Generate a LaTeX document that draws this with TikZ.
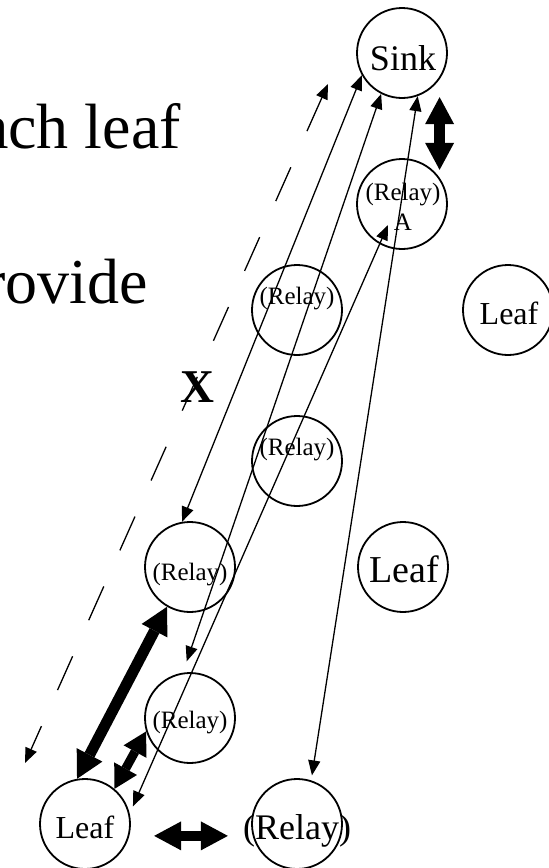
\documentclass[tikz,border=0pt]{standalone}
\usepackage{fontspec}
\setmainfont{Liberation Serif}
\usetikzlibrary{arrows.meta}

\begin{document}
\begin{tikzpicture}[
    x=1pt, y=-1pt,
    station/.style={
        circle, draw=black, line width=1.8pt, minimum size=90pt, inner sep=0pt
    },
    tag/.style={
        font=\fontsize{#1}{#1}\selectfont, inner sep=0pt, anchor=base
    },
    tag/.default={25},
    link/.style={
        {Triangle[length=15pt,width=12pt]}-{Triangle[length=15pt,width=12pt]},
        line width=1.3pt
    },
    hop/.style={
        link, dash pattern=on 37pt off 39.5pt
    },
    fat/.style={
        {Triangle[length=27pt,width=29pt,line width=0pt]}-{Triangle[length=27pt,width=29pt,line width=0pt]},
        line width=11pt
    },
    stub/.style={
        {Triangle[length=23pt,width=26pt,line width=0pt]}-{Triangle[length=23pt,width=26pt,line width=0pt]},
        line width=9pt
    }
]
\useasboundingbox (0,0) rectangle (549,868);

% -- slide text, cut off at the left edge --
\node[tag=64, anchor=base east] (line1) at (181,148) {ach leaf};
\node[tag=64, anchor=base east] (line2) at (148,303) {rovide};
\node[tag=47, font=\fontsize{47}{47}\selectfont\bfseries] (xmark) at (197,402) {X};

% -- stations --
\node[station] (sink)   at (402,53)  {};
\node[station] (relayA) at (402,204) {};
\node[station] (relayU) at (297,310) {};
\node[station] (leafU)  at (508,310) {};
\node[station] (relayM) at (297,461) {};
\node[station] (relayL) at (190,567) {};
\node[station] (leafM)  at (403,567) {};
\node[station] (relayD) at (190,718) {};
\node[station] (leafD)  at (85,824)  {};
\node[station] (relayR) at (297,824) {};

% -- station labels --
\node[tag=36] (sinktxt)   at (403,70)  {Sink};
\node[tag]    (relayAtxt) at (403,200) {(Relay)};
\node[tag]    (relayAid)  at (403,230) {A};
\node[tag]    (relayUtxt) at (297,304) {(Relay)};
\node[tag=32] (leafUtxt)  at (509,324) {Leaf};
\node[tag]    (relayMtxt) at (297,455) {(Relay)};
\node[tag]    (relayLtxt) at (190,580) {(Relay)};
\node[tag=38] (leafMtxt)  at (404,582) {Leaf};
\node[tag]    (relayDtxt) at (190,728) {(Relay)};
\node[tag=32] (leafDtxt)  at (85,838)  {Leaf};
\node[tag=36] (relayRtxt) at (297,839) {(Relay)};

% -- free ends --
\coordinate (dashtop) at (328,84);
\coordinate (dashbot) at (25,763);
\coordinate (aimA)    at (388,225);

% -- thin two-way links --
\draw[hop] (dashtop) -- (dashbot);
\draw[link] (sink.209) -- (relayL.100);
\draw[link, shorten >=12pt] (sink.243) -- (relayD.99);
\draw[link, shorten >=8pt] (aimA) -- (leafD.13);
\draw[link, shorten >=5pt] (sink.290) -- (relayR.72);

% -- block arrows --
\draw[fat, shorten <=17.8pt, shorten >=7.8pt] (sink.-35) -- (relayA.35);
\draw[fat] (relayL.240) -- (leafD.100);
\draw[stub] (relayD.197) -- (leafD.50);
\draw[fat, line width=10pt, shorten <=24.8pt, shorten >=24.8pt] (leafD.-15) -- (relayR.195);

\end{tikzpicture}
\end{document}
